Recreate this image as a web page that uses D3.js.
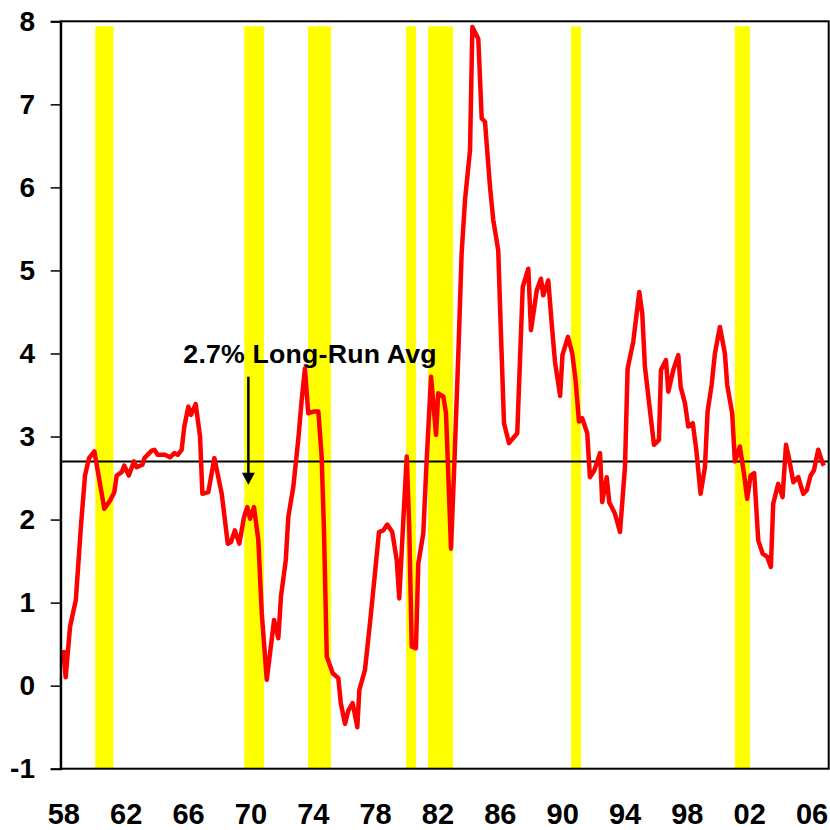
<!DOCTYPE html>
<html>
<head>
<meta charset="utf-8">
<script src="https://cdn.jsdelivr.net/npm/d3@7"></script>
<style>
  html, body { margin: 0; padding: 0; background: #fff; }
  svg { display: block; }
  text { font-family: "Liberation Sans", Arial, sans-serif; font-weight: bold; }
</style>
</head>
<body>
<div id="chart"></div>
<script>
// ---- data (decimal year, value) ----
const years = [
  1958.0,1958.15,1958.43,1958.8,1959.14,1959.39,1959.65,1959.99,1960.63,1961.0,
  1961.27,1961.42,1961.74,1961.91,1962.2,1962.53,1962.7,1963.07,1963.2,1963.67,
  1963.84,1964.05,1964.52,1964.84,1965.12,1965.34,1965.59,1965.76,1966.02,1966.19,
  1966.49,1966.77,1966.92,1967.3,1967.69,1968.16,1968.55,1968.76,1969.0,1969.29,
  1969.59,1969.8,1969.98,1970.23,1970.51,1970.73,1971.05,1971.26,1971.52,1971.79,
  1971.96,1972.27,1972.43,1972.75,1973.07,1973.29,1973.5,1973.71,1974.04,1974.36,
  1974.57,1974.72,1974.9,1975.28,1975.64,1975.8,1976.07,1976.28,1976.56,1976.86,
  1976.99,1977.35,1977.67,1977.99,1978.25,1978.53,1978.78,1979.1,1979.39,1979.55,
  1979.81,1980.03,1980.19,1980.35,1980.62,1980.77,1981.09,1981.31,1981.59,1981.91,
  1982.05,1982.38,1982.55,1982.87,1983.1,1983.34,1983.55,1983.77,1984.09,1984.24,
  1984.62,1984.84,1985.05,1985.37,1985.58,1985.9,1986.08,1986.27,1986.59,1987.12,
  1987.47,1987.83,1988.0,1988.37,1988.64,1988.79,1989.11,1989.33,1989.54,1989.87,
  1990.02,1990.37,1990.65,1990.86,1991.08,1991.29,1991.61,1991.78,1992.06,1992.43,
  1992.57,1992.86,1993.02,1993.39,1993.71,1994.03,1994.2,1994.56,1994.78,1994.95,
  1995.14,1995.31,1995.63,1995.89,1996.21,1996.34,1996.66,1996.81,1997.13,1997.45,
  1997.6,1997.88,1998.09,1998.38,1998.6,1998.88,1999.16,1999.33,1999.59,1999.8,
  2000.12,2000.44,2000.59,2000.91,2001.08,2001.4,2001.66,2001.87,2002.09,2002.32,
  2002.58,2002.86,2003.16,2003.39,2003.54,2003.86,2004.14,2004.36,2004.57,2004.83,
  2005.15,2005.47,2005.69,2005.94,2006.15,2006.43,2006.71,2006.8
];
const values = [
  0.43,0.10,0.71,1.03,1.95,2.53,2.74,2.82,2.13,2.23,
  2.33,2.53,2.57,2.65,2.53,2.70,2.63,2.66,2.74,2.83,
  2.84,2.78,2.78,2.75,2.80,2.78,2.84,3.12,3.36,3.26,
  3.39,3.00,2.31,2.33,2.74,2.31,1.71,1.73,1.87,1.71,
  2.03,2.15,2.01,2.15,1.75,0.87,0.07,0.39,0.79,0.57,
  1.07,1.51,2.03,2.39,2.96,3.44,3.82,3.28,3.30,3.30,
  2.76,1.87,0.35,0.15,0.09,-0.21,-0.46,-0.30,-0.21,-0.50,
  -0.05,0.19,0.75,1.35,1.85,1.87,1.94,1.85,1.51,1.05,
  1.99,2.76,1.91,0.47,0.45,1.47,1.83,2.72,3.72,3.02,
  3.52,3.48,3.28,1.65,2.75,4.00,5.20,5.85,6.45,7.93,
  7.79,6.83,6.79,6.01,5.61,5.24,4.20,3.16,2.92,3.04,
  4.80,5.02,4.28,4.76,4.90,4.70,4.88,4.36,3.90,3.49,
  3.98,4.20,4.00,3.68,3.18,3.22,3.04,2.51,2.59,2.80,
  2.21,2.51,2.21,2.07,1.85,2.63,3.82,4.14,4.48,4.74,
  4.48,3.84,3.32,2.90,2.96,3.80,3.92,3.54,3.80,3.98,
  3.60,3.40,3.12,3.16,2.85,2.31,2.63,3.30,3.62,4.00,
  4.32,4.00,3.62,3.28,2.70,2.88,2.56,2.25,2.53,2.56,
  1.75,1.59,1.55,1.43,2.19,2.43,2.27,2.90,2.72,2.45,
  2.51,2.31,2.35,2.53,2.59,2.84,2.68,2.65
];
// recession periods (start, end) in decimal years
const recessionStart = [1960.05, 1969.61, 1973.70, 1979.99, 1981.39, 1990.57, 2001.08];
const recessionEnd   = [1961.21, 1970.87, 1975.17, 1980.62, 1983.00, 1991.21, 2002.05];
const recessionTop = 7.94;
// axis ticks
const xTickYears  = [1958,1962,1966,1970,1974,1978,1982,1986,1990,1994,1998,2002,2006];
const xTickLabels = ["58","62","66","70","74","78","82","86","90","94","98","02","06"];
const yTicks = [-1,0,1,2,3,4,5,6,7,8];
// long-run average annotation
const longRunAvg = 2.7;
const annoText = "2.7% Long-Run Avg";
const annoTextYear = 1965.7, annoTextValue = 3.88;
const arrowYear = 1969.87, arrowFromValue = 3.72, arrowToValue = 2.42;

// ---- layout ----
const W = 830, H = 830;
const mLeft = 60.7, mRight = 828.7, mTop = 21.3, mBottom = 768.7;

const svg = d3.select("#chart").append("svg").attr("width", W).attr("height", H);

const x = d3.scaleLinear().domain([1957.83, 2007.1]).range([mLeft, mRight]);
const y = d3.scaleLinear().domain([-1, 8]).range([mBottom, mTop]);

// recession bars
svg.append("g").selectAll("rect")
  .data(recessionStart.map((s, i) => [s, recessionEnd[i]]))
  .join("rect")
  .attr("x", d => x(d[0]))
  .attr("width", d => x(d[1]) - x(d[0]))
  .attr("y", y(recessionTop))
  .attr("height", y(-1) - y(recessionTop))
  .attr("fill", "#ffff00");

// long-run average line
svg.append("line")
  .attr("x1", mLeft).attr("x2", mRight)
  .attr("y1", y(longRunAvg)).attr("y2", y(longRunAvg))
  .attr("stroke", "#000").attr("stroke-width", 2);

// series line
const series = years.map((t, i) => [t, values[i]]);
svg.append("path")
  .datum(series)
  .attr("fill", "none")
  .attr("stroke", "#ff0000")
  .attr("stroke-width", 4.5)
  .attr("stroke-linejoin", "round")
  .attr("d", d3.line().x(d => x(d[0])).y(d => y(d[1])));

// frame
svg.append("rect")
  .attr("x", mLeft).attr("y", mTop)
  .attr("width", mRight - mLeft).attr("height", mBottom - mTop)
  .attr("fill", "none").attr("stroke", "#000").attr("stroke-width", 2);

// y axis
const yAxis = svg.append("g")
  .attr("transform", `translate(${mLeft},0)`)
  .call(d3.axisLeft(y).tickValues(yTicks).tickSize(10).tickPadding(15.7).tickFormat(d => String(d)));
yAxis.select(".domain").attr("stroke", "#000").attr("stroke-width", 2);
yAxis.selectAll(".tick line").attr("stroke", "#000").attr("stroke-width", 1.5);
yAxis.selectAll(".tick text")
  .attr("font-size", 28).attr("font-family", "Liberation Sans, Arial, sans-serif")
  .attr("font-weight", "bold").attr("fill", "#000");

// x axis (labels only)
const xAxis = svg.append("g")
  .attr("transform", `translate(0,${mBottom})`)
  .call(d3.axisBottom(x).tickValues(xTickYears).tickSize(0).tickPadding(35)
        .tickFormat((d, i) => xTickLabels[i]));
xAxis.select(".domain").remove();
xAxis.selectAll(".tick text")
  .attr("font-size", 29).attr("font-family", "Liberation Sans, Arial, sans-serif")
  .attr("font-weight", "bold").attr("fill", "#000");

// annotation
svg.append("text")
  .attr("x", x(annoTextYear)).attr("y", y(annoTextValue))
  .attr("font-size", 26.7).attr("letter-spacing", 0.2).attr("fill", "#000")
  .text(annoText);

const ax = x(arrowYear), ay0 = y(arrowFromValue), ay1 = y(arrowToValue);
svg.append("line")
  .attr("x1", ax).attr("x2", ax)
  .attr("y1", ay0).attr("y2", ay1 - 10)
  .attr("stroke", "#000").attr("stroke-width", 2.5);
svg.append("path")
  .attr("d", `M${ax - 6.5},${ay1 - 12} L${ax + 6.5},${ay1 - 12} L${ax},${ay1} Z`)
  .attr("fill", "#000");
</script>
</body>
</html>
